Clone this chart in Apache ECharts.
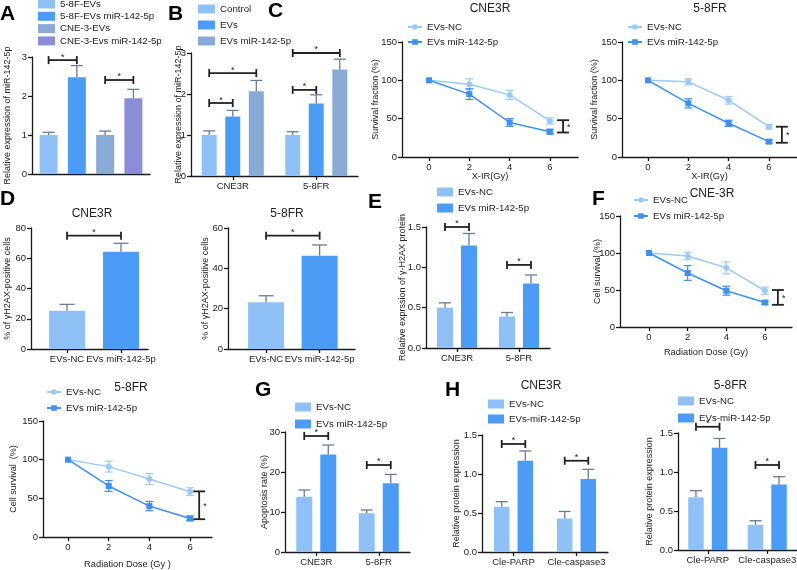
<!DOCTYPE html>
<html><head><meta charset="utf-8">
<script src="https://cdn.jsdelivr.net/npm/echarts@6/dist/echarts.min.js"></script>
<style>html,body{margin:0;padding:0;background:#fff}#c{width:797px;height:570px}</style>
</head><body><div id="c"></div>
<script>
// ================= DATA =================
// Panel A
const aCats = [''];
const aNames = ['5-8F-EVs', '5-8F-EVs miR-142-5p', 'CNE-3-EVs', 'CNE-3-Evs miR-142-5p'];
const aValues = [[1.0], [2.48], [1.0], [1.94]];
const aUpper = [[1.07], [2.78], [1.10], [2.17]];
const aBrackets = [[0, 0, 0, 1, 2.92], [0, 2, 0, 3, 2.41]];
// Panel B
const bCats = ['CNE3R', '5-8FR'];
const bNames = ['Control', 'EVs', 'EVs miR-142-5p'];
const bControl = [1.0, 1.0];
const bControlUpper = [1.10, 1.08];
const bEVs = [1.45, 1.77];
const bEVsUpper = [1.60, 1.98];
const bEVsMiR = [2.07, 2.60];
const bEVsMiRUpper = [2.33, 2.85];
const bBrackets = [[0, 0, 0, 1, 1.78], [0, 0, 0, 2, 2.51], [1, 0, 1, 1, 2.10], [1, 0, 1, 2, 3.0]];
// Panel C (survival fraction)
const xDose = [0, 2, 4, 6];
const lineNames = ['EVs-NC', 'EVs miR-142-5p'];
const cCNE3RNC = [100, 95, 81, 47];
const cCNE3RNCErr = [0, 7, 6, 4];
const cCNE3RMiR = [100, 82, 45, 33];
const cCNE3RMiRErr = [0, 7, 5, 3];
const cCNE3RBracket = [6.65, 48, 32];
const c58FRNC = [100, 98, 74, 39.5];
const c58FRNCErr = [0, 4, 5, 3];
const c58FRMiR = [100, 70, 44, 20];
const c58FRMiRErr = [0, 6, 4, 2];
const c58FRBracket = [6.64, 39.5, 18.6];
// Panel D
const dCats = ['EVs-NC', 'EVs miR-142-5p'];
const dCNE3R = [25.3, 64.3];
const dCNE3RUpper = [29.5, 69.9];
const dCNE3RBracket = [[0, 0, 1, 1, 74.9]];
const d58FR = [23.2, 46.3];
const d58FRUpper = [26.4, 51.6];
const d58FRBracket = [[0, 0, 1, 1, 56.2]];
// Panel E
const eCats = ['CNE3R', '5-8FR'];
const eNames = ['EVs-NC', 'EVs miR-142-5p'];
const eNC = [0.50, 0.39];
const eNCUpper = [0.56, 0.44];
const eMiR = [1.27, 0.80];
const eMiRUpper = [1.42, 0.905];
const eBrackets = [[0, 0, 0, 1, 1.5], [1, 0, 1, 1, 1.03]];
// Panel F (cell survival)
const fCNE3RNC = [100, 96, 80, 49];
const fCNE3RNCErr = [0, 5, 8, 5];
const fCNE3RMiR = [100, 73, 49, 33];
const fCNE3RMiRErr = [0, 10, 6, 2];
const fCNE3RBracket = [6.67, 50, 30];
const f58FRNC = [100, 91, 75, 58.6];
const f58FRNCErr = [0, 7, 7, 5];
const f58FRMiR = [100, 66, 40, 24];
const f58FRMiRErr = [0, 7, 6, 3];
const f58FRBracket = [6.45, 59, 23];
// Panel G
const gCats = ['CNE3R', '5-8FR'];
const gNames = ['EVs-NC', 'EVs miR-142-5p'];
const gNC = [13.8, 9.7];
const gNCUpper = [15.5, 10.5];
const gMiR = [24.4, 17.2];
const gMiRUpper = [26.75, 19.4];
const gBrackets = [[0, 0, 0, 1, 29], [1, 0, 1, 1, 21.75]];
// Panel H
const hCats = ['Cle-PARP', 'Cle-caspase3'];
const hNames = ['EVs-NC', 'EVs-miR-142-5p'];
const hCNE3RNC = [0.58, 0.43];
const hCNE3RNCUpper = [0.645, 0.52];
const hCNE3RMiR = [1.17, 0.935];
const hCNE3RMiRUpper = [1.295, 1.06];
const hCNE3RBrackets = [[0, 0, 0, 1, 1.385], [1, 0, 1, 1, 1.17]];
const h58FRNC = [0.675, 0.32];
const h58FRNCUpper = [0.76, 0.375];
const h58FRMiR = [1.31, 0.84];
const h58FRMiRUpper = [1.43, 0.94];
const h58FRBrackets = [[0, 0, 0, 1, 1.58], [1, 0, 1, 1, 1.09]];

// ================= STYLE =================
const FONT = '"Liberation Sans", Arial, Helvetica, sans-serif';
const TXT = '#222';
const AX = '#1a1a1a';
const BR = '#222';
const ERR = '#6a7c92';
const C_LIGHT = '#8fc1f7', C_BLUE = '#4c9cf6', C_STEEL = '#8aaad6', C_PURPLE = '#8b8dd7';
const L_NC = '#9ccaf6', L_MIR = '#3f90ef';

const grids = [], xAxes = [], yAxes = [], series = [], legends = [], graphics = [];

function axisLine() { return { show: true, onZero: false, lineStyle: { color: AX, width: 1.3 } }; }
function tick(extra) { return Object.assign({ show: true, length: 4, inside: false, lineStyle: { color: AX, width: 1.3 } }, extra || {}); }
function lab(extra) { return Object.assign({ fontFamily: FONT, fontSize: 9.5, color: TXT, margin: 5 }, extra || {}); }
function txtStyle(t, size, align, valign, fill, weight) {
  return { text: t, fontFamily: FONT, fontSize: size, fontWeight: weight || 'normal', fill: fill || TXT,
    align: align, verticalAlign: valign, textAlign: align, textVerticalAlign: valign };
}

function addGrid(box) {
  grids.push({ left: box[0], top: box[1], width: box[2] - box[0], height: box[3] - box[1], containLabel: false, outerBoundsMode: 'none' });
  return grids.length - 1;
}
function addY(gi, max, interval, name, gap, fmt) {
  yAxes.push({ type: 'value', gridIndex: gi, min: 0, max: max, interval: interval, name: name, nameLocation: 'middle', nameGap: gap, nameRotate: 90,
    nameMoveOverlap: false,
    nameTextStyle: { fontFamily: FONT, fontSize: 9, color: TXT },
    axisLine: axisLine(), axisTick: tick(), axisLabel: lab(fmt ? { formatter: fmt } : {}), splitLine: { show: false } });
  return yAxes.length - 1;
}
function addLegend(names, left, firstCenter, spacing, isBar, iw, ih) {
  const LH = 12;
  const l = { show: true, orient: 'vertical', left: left, top: firstCenter - LH / 2, padding: 0, itemGap: spacing - LH,
    itemWidth: iw, itemHeight: ih, data: names, selectedMode: false,
    formatter: function (n) { return n.split('#')[0]; },
    textStyle: { fontFamily: FONT, fontSize: 9.7, color: TXT, lineHeight: LH } };
  if (isBar) l.icon = 'rect';
  legends.push(l);
}

function barPanel(o) {
  const gi = addGrid(o.box);
  const valueX = !!o.xRange;
  if (valueX) {
    const idx = o.cats.map(function (c, k) { return k; });
    xAxes.push({ type: 'value', gridIndex: gi, min: o.xRange[0], max: o.xRange[1], axisLine: axisLine(),
      axisTick: tick({ customValues: idx }),
      axisLabel: lab({ customValues: idx, formatter: function (v) { return o.cats[Math.round(v)]; } }), splitLine: { show: false } });
  } else {
    xAxes.push({ type: 'category', gridIndex: gi, data: o.cats, axisLine: axisLine(),
      axisTick: tick({ show: o.showTicks !== false, alignWithLabel: true }),
      axisLabel: lab({ interval: 0, show: o.showLabels !== false }), splitLine: { show: false } });
  }
  const xi = xAxes.length - 1;
  const yi = addY(gi, o.max, o.interval, o.yName, o.yGap, o.fmt);
  const n = o.names.length, w = o.barWidth;
  const gapPx = o.overlap ? -w : o.gap * w;
  const off = function (i) { return o.overlap ? 0 : -(n * w + (n - 1) * gapPx) / 2 + i * (w + gapPx) + w / 2; };
  o.names.forEach(function (nm, i) {
    let data = o.values[i];
    if (valueX) {
      data = [];
      o.values[i].forEach(function (v, c) { if (typeof v === 'number') data.push([c, v]); });
    }
    series.push({ type: 'bar', name: nm, xAxisIndex: xi, yAxisIndex: yi, data: data, barWidth: w,
      barGap: o.overlap ? '-100%' : (o.gap * 100) + '%', itemStyle: { color: o.colors[i] }, silent: true, animation: false, z: 2 });
  });
  const errData = [];
  o.values.forEach(function (arr, i) {
    arr.forEach(function (v, c) { if (typeof v === 'number') errData.push([c, i, v, o.upper[i][c]]); });
  });
  const cap = o.cap || 6;
  series.push({ type: 'custom', xAxisIndex: xi, yAxisIndex: yi, data: errData, encode: { x: 0, y: 3 }, silent: true, animation: false, z: 3,
    renderItem: function (p, api) {
      const c = api.value(0), i = api.value(1);
      const p0 = api.coord([c, api.value(2)]), p1 = api.coord([c, api.value(3)]);
      const x = p0[0] + off(i);
      const st = { stroke: ERR, lineWidth: 1.3 };
      return { type: 'group', children: [
        { type: 'line', shape: { x1: x, y1: p0[1], x2: x, y2: p1[1] }, style: st },
        { type: 'line', shape: { x1: x - cap, y1: p1[1], x2: x + cap, y2: p1[1] }, style: st }
      ] };
    } });
  series.push({ type: 'custom', xAxisIndex: xi, yAxisIndex: yi, data: o.brackets, encode: { x: 0, y: 4 }, silent: true, animation: false, z: 4,
    renderItem: function (p, api) {
      const a = api.coord([api.value(0), api.value(4)]), b = api.coord([api.value(2), api.value(4)]);
      const x1 = a[0] + off(api.value(1)), x2 = b[0] + off(api.value(3)), y = a[1];
      const st = { stroke: BR, lineWidth: 1.8 };
      return { type: 'group', children: [
        { type: 'line', shape: { x1: x1, y1: y, x2: x2, y2: y }, style: st },
        { type: 'line', shape: { x1: x1, y1: y - 4, x2: x1, y2: y + 4 }, style: st },
        { type: 'line', shape: { x1: x2, y1: y - 4, x2: x2, y2: y + 4 }, style: st },
        { type: 'text', x: (x1 + x2) / 2, y: y - 3, style: txtStyle('*', 9, 'center', 'middle', BR) }
      ] };
    } });
}

function linePanel(o) {
  const gi = addGrid(o.box);
  xAxes.push({ type: 'value', gridIndex: gi, min: o.xMin, max: o.xMax, name: o.xName, nameLocation: 'middle', nameGap: o.xGap,
    nameMoveOverlap: false,
    nameTextStyle: { fontFamily: FONT, fontSize: 9.3, color: TXT },
    axisLine: axisLine(), axisTick: tick({ customValues: xDose }), axisLabel: lab({ customValues: xDose }), splitLine: { show: false } });
  const xi = xAxes.length - 1;
  const yi = addY(gi, 150, 50, o.yName, o.yGap);
  const specs = [[o.names[0], o.nc, o.ncErr, L_NC, 'circle', 6], [o.names[1], o.mir, o.mirErr, L_MIR, 'rect', 6]];
  specs.forEach(function (s, si) {
    const col = s[3];
    series.push({ type: 'line', name: s[0], xAxisIndex: xi, yAxisIndex: yi, data: xDose.map(function (x, k) { return [x, s[1][k]]; }),
      symbol: s[4], symbolSize: s[5], showSymbol: true, lineStyle: { color: col, width: 1.5 }, itemStyle: { color: col },
      silent: true, animation: false, z: 3 + si });
    series.push({ type: 'custom', xAxisIndex: xi, yAxisIndex: yi, data: xDose.map(function (x, k) { return [x, s[1][k] - s[2][k], s[1][k] + s[2][k]]; }),
      encode: { x: 0, y: [1, 2] }, silent: true, animation: false, z: 2,
      renderItem: function (p, api) {
        const lo = api.coord([api.value(0), api.value(1)]), hi = api.coord([api.value(0), api.value(2)]);
        if (Math.abs(lo[1] - hi[1]) < 0.5) return { type: 'group', children: [] };
        const x = lo[0], st = { stroke: col, lineWidth: 1.2 };
        return { type: 'group', children: [
          { type: 'line', shape: { x1: x, y1: lo[1], x2: x, y2: hi[1] }, style: st },
          { type: 'line', shape: { x1: x - 4, y1: lo[1], x2: x + 4, y2: lo[1] }, style: st },
          { type: 'line', shape: { x1: x - 4, y1: hi[1], x2: x + 4, y2: hi[1] }, style: st }
        ] };
      } });
  });
  series.push({ type: 'custom', xAxisIndex: xi, yAxisIndex: yi, data: [o.bracket], encode: { x: 0, y: [1, 2] }, silent: true, animation: false, z: 5,
    renderItem: function (p, api) {
      const a = api.coord([api.value(0), api.value(1)]), b = api.coord([api.value(0), api.value(2)]);
      const x = a[0], st = { stroke: BR, lineWidth: 1.8 };
      return { type: 'group', children: [
        { type: 'line', shape: { x1: x, y1: a[1], x2: x, y2: b[1] }, style: st },
        { type: 'line', shape: { x1: x - 6, y1: a[1], x2: x + 6, y2: a[1] }, style: st },
        { type: 'line', shape: { x1: x - 6, y1: b[1], x2: x + 6, y2: b[1] }, style: st },
        { type: 'text', x: x + 4, y: (a[1] + b[1]) / 2 + 1, style: txtStyle('*', 9, 'left', 'middle', BR) }
      ] };
    } });
}

// ================= PANELS =================
// A
barPanel({ box: [32, 57, 150, 174], cats: aCats, names: aNames.map(function (n) { return n + '#A'; }), values: aValues, upper: aUpper,
  colors: [C_LIGHT, C_BLUE, C_STEEL, C_PURPLE], barWidth: 18, gap: 0.57, max: 3, interval: 1,
  yName: 'Relative expression of miR-142-5p', yGap: 20, brackets: aBrackets, showTicks: false, showLabels: false });
addLegend(aNames.map(function (n) { return n + '#A'; }), 38, 4, 12.3, true, 17, 9);
// B
barPanel({ box: [191, 53, 358, 176], cats: bCats, names: bNames.map(function (n) { return n + '#B'; }),
  values: [bControl, bEVs, bEVsMiR], upper: [bControlUpper, bEVsUpper, bEVsMiRUpper],
  colors: [C_LIGHT, C_BLUE, C_STEEL], barWidth: 15, gap: 0.57, max: 3, interval: 1,
  yName: 'Relative expression of miR-142-5p', yGap: 7.5, brackets: bBrackets });
addLegend(bNames.map(function (n) { return n + '#B'; }), 198, 9, 16, true, 17, 9);
// C left / right
linePanel({ box: [402, 42, 578, 157], xMin: -1.34, xMax: 7.39, xName: 'X-IR(Gy)', xGap: 15, yName: 'Survival fraction (%)', yGap: 21.5,
  names: lineNames.map(function (n) { return n + '#C1'; }), nc: cCNE3RNC, ncErr: cCNE3RNCErr, mir: cCNE3RMiR, mirErr: cCNE3RMiRErr, bracket: cCNE3RBracket });
addLegend(lineNames.map(function (n) { return n + '#C1'; }), 407, 27, 15, false, 14, 7);
linePanel({ box: [622, 42, 797, 157], xMin: -1.29, xMax: 7.39, xName: 'X-IR(Gy)', xGap: 15, yName: 'Survival fraction (%)', yGap: 23,
  names: lineNames.map(function (n) { return n + '#C2'; }), nc: c58FRNC, ncErr: c58FRNCErr, mir: c58FRMiR, mirErr: c58FRMiRErr, bracket: c58FRBracket });
addLegend(lineNames.map(function (n) { return n + '#C2'; }), 627, 27, 15, false, 14, 7);
// D left / right
barPanel({ box: [31, 228, 148, 349], xRange: [-0.667, 1.5], cats: dCats, names: ['NC#D1', 'miR#D1'], values: [[dCNE3R[0], '-'], ['-', dCNE3R[1]]],
  upper: [[dCNE3RUpper[0], null], [null, dCNE3RUpper[1]]], colors: [C_LIGHT, C_BLUE], barWidth: 36, overlap: true, cap: 7.5,
  max: 80, interval: 20, yName: '% of γH2AX-positive cells', yGap: 19, brackets: dCNE3RBracket });
barPanel({ box: [228, 228, 355, 349], xRange: [-0.71, 1.66], cats: dCats, names: ['NC#D2', 'miR#D2'], values: [[d58FR[0], '-'], ['-', d58FR[1]]],
  upper: [[d58FRUpper[0], null], [null, d58FRUpper[1]]], colors: [C_LIGHT, C_BLUE], barWidth: 36, overlap: true, cap: 7.5,
  max: 60, interval: 20, yName: '% of γH2AX-positive cells', yGap: 17.5, brackets: d58FRBracket });
// E
barPanel({ box: [426, 227, 550, 348], cats: eCats, names: eNames.map(function (n) { return n + '#E'; }), values: [eNC, eMiR], upper: [eNCUpper, eMiRUpper],
  colors: [C_LIGHT, C_BLUE], barWidth: 16, gap: 0.5, max: 1.5, interval: 0.5, fmt: function (v) { return v.toFixed(1); },
  yName: 'Relative exprssion of γ-H2AX protein', yGap: 18.5, brackets: eBrackets });
addLegend(eNames.map(function (n) { return n + '#E'; }), 437, 192, 16, true, 16, 9);
// F top / bottom
linePanel({ box: [620, 216, 792, 327], xMin: -1.5, xMax: 7.4, xName: 'Radiation Dose (Gy)', xGap: 21, yName: 'Cell survival (%)', yGap: 17.5,
  names: lineNames.map(function (n) { return n + '#F1'; }), nc: fCNE3RNC, ncErr: fCNE3RNCErr, mir: fCNE3RMiR, mirErr: fCNE3RMiRErr, bracket: fCNE3RBracket });
addLegend(lineNames.map(function (n) { return n + '#F1'; }), 633, 200, 16, false, 14, 7);
linePanel({ box: [43, 421, 212, 537], xMin: -1.23, xMax: 7.08, xName: 'Radiation Dose (Gy )', xGap: 23, yName: 'Cell survival  (%)', yGap: 25,
  names: lineNames.map(function (n) { return n + '#F2'; }), nc: f58FRNC, ncErr: f58FRNCErr, mir: f58FRMiR, mirErr: f58FRMiRErr, bracket: f58FRBracket });
addLegend(lineNames.map(function (n) { return n + '#F2'; }), 46, 392, 16, false, 14, 7);
// G
barPanel({ box: [285, 432, 410, 552], cats: gCats, names: gNames.map(function (n) { return n + '#G'; }), values: [gNC, gMiR], upper: [gNCUpper, gMiRUpper],
  colors: [C_LIGHT, C_BLUE], barWidth: 16, gap: 0.5, max: 30, interval: 10,
  yName: 'Apoptosis rate (%)', yGap: 15.5, brackets: gBrackets });
addLegend(gNames.map(function (n) { return n + '#G'; }), 295, 407, 17, true, 16, 9);
// H left / right
barPanel({ box: [482, 435, 608, 552], cats: hCats, names: hNames.map(function (n) { return n + '#H1'; }), values: [hCNE3RNC, hCNE3RMiR], upper: [hCNE3RNCUpper, hCNE3RMiRUpper],
  colors: [C_LIGHT, C_BLUE], barWidth: 15.5, gap: 0.52, max: 1.5, interval: 0.5, fmt: function (v) { return v.toFixed(1); },
  yName: 'Relative protein expression', yGap: 21, brackets: hCNE3RBrackets });
addLegend(hNames.map(function (n) { return n + '#H1'; }), 488, 404, 15, true, 16, 9);
barPanel({ box: [678, 433, 797, 550], cats: hCats, names: hNames.map(function (n) { return n + '#H2'; }), values: [h58FRNC, h58FRMiR], upper: [h58FRNCUpper, h58FRMiRUpper],
  colors: [C_LIGHT, C_BLUE], barWidth: 15.5, gap: 0.52, max: 1.5, interval: 0.5, fmt: function (v) { return v.toFixed(1); },
  yName: 'Relative protein expression', yGap: 24, brackets: h58FRBrackets });
addLegend(hNames.map(function (n) { return n + '#H2'; }), 678, 401, 17, true, 16, 9);

// ================= TEXT (titles / panel letters) =================
[['A', 0, 14.5], ['B', 168, 14.5], ['C', 268, 11.5], ['D', 0, 199.5], ['E', 368, 202.5], ['F', 592, 199.5], ['G', 255, 390.5], ['H', 445, 390]]
  .forEach(function (t) { graphics.push({ type: 'text', x: t[1], y: t[2], silent: true, style: txtStyle(t[0], 21, 'left', 'middle', '#000', 'bold') }); });
[['CNE3R', 490, 9], ['5-8FR', 710, 9], ['CNE3R', 92, 214], ['5-8FR', 287, 214], ['CNE-3R', 712, 194], ['5-8FR', 131, 387.5], ['CNE3R', 541, 386], ['5-8FR', 730.5, 386]]
  .forEach(function (t) { graphics.push({ type: 'text', x: t[1], y: t[2], silent: true, style: txtStyle(t[0], 12, 'center', 'middle', TXT) }); });

const chart = echarts.init(document.getElementById('c'), null, { renderer: 'canvas' });
chart.setOption({
  animation: false,
  backgroundColor: '#fff',
  textStyle: { fontFamily: FONT },
  grid: grids, xAxis: xAxes, yAxis: yAxes, series: series, legend: legends, graphic: graphics
});
</script></body></html>
